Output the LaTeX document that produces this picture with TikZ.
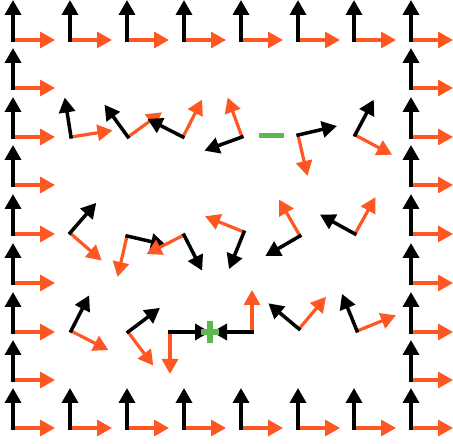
\documentclass[tikz,border=0pt]{standalone}
\usetikzlibrary{arrows.meta}
\definecolor{axisorange}{RGB}{255,87,34}
\definecolor{signgreen}{RGB}{94,184,80}
\tikzset{
  yax/.style={draw=black,line width=3.5pt,-{Triangle[length=15pt,width=16pt]}},
  xax/.style={draw=axisorange,line width=3.2pt,-{Triangle[length=15pt,width=16pt]}},
  cframe/.pic={\draw[xax] (0,0) -- (42,0); \draw[yax] (0,-1.6) -- (0,40);},
  signbar/.style={fill=signgreen,draw=none}
}
\begin{document}
\begin{tikzpicture}[x=1pt,y=1pt]
\useasboundingbox (0,0) rectangle (453,444);
% border frames: top and bottom rows
\foreach \xx [count=\k] in {13,70,127,184,241,298,354,411}{
  \coordinate (t\k) at (\xx,404);
  \coordinate (b\k) at (\xx,16);
  \pic at (t\k) {cframe};
  \pic at (b\k) {cframe};
}
% border frames: left and right columns
\foreach \yy [count=\k] in {88,137,185,234,283,332,380}{
  \coordinate (l\k) at (13,444-\yy);
  \coordinate (r\k) at (411,444-\yy);
  \pic at (l\k) {cframe};
  \pic at (r\k) {cframe};
}
% interior frames: x, image y, rotation
\foreach \xx/\yy/\rr [count=\k] in {
  71/137/9, 128/137/36, 183/137/63, 242/137/110, 298/135/-77, 355/135/-28,
  70/233/-41, 127/236/-103, 184/235/-153, 244/232/158, 300/236/120, 355/234/61,
  71/331/-27, 128/332/-53, 170/332/-90, 252/332/90, 299/329/50, 357/331/22}{
  \coordinate (m\k) at (\xx,444-\yy);
  \pic[rotate=\rr] at (m\k) {cframe};
}
% green signs
\coordinate (minus) at (271.5,308.5);
\coordinate (plus) at (210,112);
\fill[signbar] ([xshift=-12.5pt,yshift=-2.6pt]minus) rectangle ([xshift=12.5pt,yshift=2.6pt]minus);
\fill[signbar] ([xshift=-9pt,yshift=-2.6pt]plus) rectangle ([xshift=9pt,yshift=2.6pt]plus);
\fill[signbar] ([xshift=-2.6pt,yshift=-11pt]plus) rectangle ([xshift=2.6pt,yshift=11pt]plus);
\end{tikzpicture}
\end{document}
